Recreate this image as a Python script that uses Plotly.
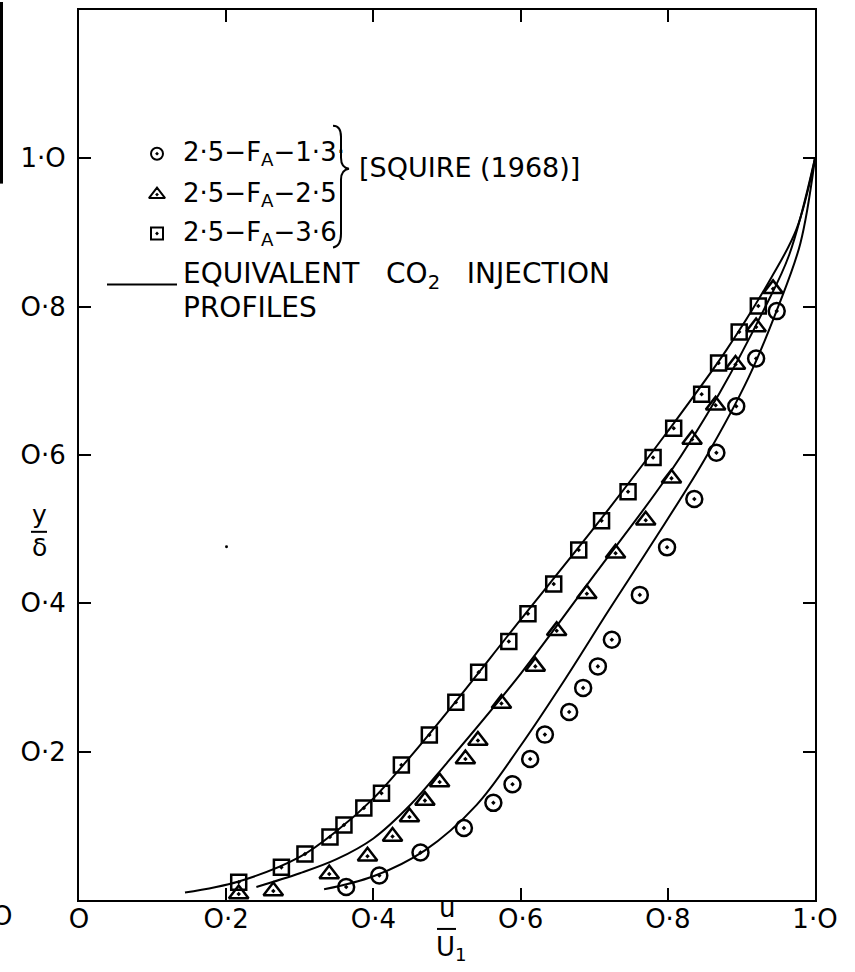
import plotly.graph_objects as go

# ---- measured velocity profiles, u/U1 against y/delta ----
u_13 = [0.363, 0.408, 0.464, 0.523, 0.563, 0.589, 0.613, 0.633, 0.666, 0.685,
        0.705, 0.724, 0.762, 0.799, 0.836, 0.866, 0.893, 0.920, 0.948]
y_13 = [0.0175, 0.033, 0.064, 0.097, 0.131, 0.156, 0.190, 0.223, 0.2535, 0.286,
        0.315, 0.351, 0.4114, 0.4755, 0.5406, 0.603, 0.6657, 0.730, 0.794]

u_25 = [0.217, 0.264, 0.340, 0.392, 0.426, 0.449, 0.470, 0.490, 0.525, 0.542, 0.574,
        0.620, 0.649, 0.690, 0.729, 0.770, 0.805, 0.833, 0.865, 0.892, 0.920, 0.943]
y_25 = [0.008, 0.012, 0.035, 0.059, 0.0857, 0.112, 0.134, 0.159, 0.190, 0.215, 0.265,
        0.315, 0.363, 0.413, 0.4675, 0.512, 0.5685, 0.621, 0.667, 0.722, 0.7725, 0.824]

u_36 = [0.217, 0.275, 0.307, 0.341, 0.360, 0.387, 0.411, 0.438, 0.476, 0.512, 0.543,
        0.584, 0.610, 0.645, 0.679, 0.710, 0.746, 0.780, 0.808, 0.846, 0.869, 0.897, 0.923]
y_36 = [0.024, 0.044, 0.062, 0.085, 0.101, 0.124, 0.144, 0.182, 0.2225, 0.2665, 0.307,
        0.3486, 0.386, 0.426, 0.472, 0.5114, 0.5505, 0.5965, 0.636, 0.682, 0.724, 0.766, 0.801]

# ---- equivalent CO2 injection profiles ----
cu_36 = [0.144, 0.217, 0.300, 0.350, 0.400, 0.450, 0.500, 0.600, 0.700, 0.800,
         0.880, 0.940, 0.975, 1.0]
cy_36 = [0.010, 0.025, 0.058, 0.093, 0.137, 0.193, 0.253, 0.378, 0.502, 0.632,
         0.742, 0.838, 0.905, 1.0]

cu_25 = [0.241, 0.300, 0.350, 0.400, 0.450, 0.500, 0.600, 0.700, 0.800, 0.870,
         0.930, 0.965, 1.0]
cy_25 = [0.0175, 0.036, 0.055, 0.083, 0.128, 0.185, 0.305, 0.438, 0.572, 0.683,
         0.795, 0.870, 1.0]

cu_13 = [0.333, 0.400, 0.470, 0.540, 0.600, 0.660, 0.720, 0.780, 0.850, 0.910,
         0.950, 0.980, 1.0]
cy_13 = [0.0144, 0.032, 0.067, 0.128, 0.208, 0.297, 0.391, 0.483, 0.594, 0.705,
         0.800, 0.885, 1.0]

x_tickvals = [0, 0.2, 0.4, 0.6, 0.8, 1.0]
x_ticktext = ["O", "O·2", "O·4", "O·6", "O·8", "1·O"]
y_tickvals = [0.2, 0.4, 0.6, 0.8, 1.0]
y_ticktext = ["O·2", "O·4", "O·6", "O·8", "1·O"]

series_labels = ["2·5−F<sub>A</sub>−1·3·", "2·5−F<sub>A</sub>−2·5", "2·5−F<sub>A</sub>−3·6"]
source_label = "[SQUIRE (1968)]"
line_label_1 = "EQUIVALENT   CO<sub>2</sub>   INJECTION"
line_label_2 = "PROFILES"

# ---- page geometry (pixels) ----
W, H = 855, 972
L, R, T, B = 79, 815, 8, 900
FONT = "DejaVu Sans"


def fx(p):
    return (p - L) / (R - L)


def fy(p):
    return (B - p) / (B - T)


fig = go.Figure()

line_style = dict(color="black", width=2, shape="spline", smoothing=1.0)
for cu, cy in [(cu_36, cy_36), (cu_25, cy_25), (cu_13, cy_13)]:
    fig.add_trace(go.Scatter(x=cu, y=cy, mode="lines", line=line_style,
                             hoverinfo="skip", showlegend=False))

symbols = ["circle-open-dot", "triangle-up-open-dot", "square-open-dot"]
sizes = [16, 17, 15]
for (u, y), sym, sz in zip([(u_13, y_13), (u_25, y_25), (u_36, y_36)], symbols, sizes):
    fig.add_trace(go.Scatter(x=u, y=y, mode="markers",
                             marker=dict(symbol=sym, size=sz, color="black",
                                         line=dict(color="black", width=2.5)),
                             showlegend=False, cliponaxis=False))

# ---- key (drawn on a pixel-scaled overlay) ----
key_rows = [152, 193, 232]
key_x = 157
key_sizes = [12, 14, 12]
for sym, row, sz in zip(symbols, key_rows, key_sizes):
    fig.add_trace(go.Scatter(x=[key_x], y=[row], xaxis="x2", yaxis="y2", mode="markers",
                             marker=dict(symbol=sym, size=sz, color="black",
                                         line=dict(color="black", width=2)),
                             showlegend=False, hoverinfo="skip"))
fig.add_trace(go.Scatter(x=[107, 177], y=[283, 283], xaxis="x2", yaxis="y2", mode="lines",
                         line=dict(color="black", width=2), showlegend=False,
                         hoverinfo="skip"))

txt_font = dict(family=FONT, size=26, color="black")
caps_font = dict(family=FONT, size=28, color="black")
annotations = []
for text, row in zip(series_labels, key_rows):
    annotations.append(dict(x=fx(181), y=fy(row), xref="paper", yref="paper", text=text,
                            xanchor="left", yanchor="middle", showarrow=False, font=txt_font))
annotations.append(dict(x=fx(357), y=fy(166), xref="paper", yref="paper", text=source_label,
                        xanchor="left", yanchor="middle", showarrow=False,
                        font=dict(family=FONT, size=27, color="black")))
annotations.append(dict(x=fx(181), y=fy(274), xref="paper", yref="paper", text=line_label_1,
                        xanchor="left", yanchor="middle", showarrow=False, font=caps_font))
annotations.append(dict(x=fx(181), y=fy(306), xref="paper", yref="paper", text=line_label_2,
                        xanchor="left", yanchor="middle", showarrow=False, font=caps_font))

# axis titles written as stacked fractions
annotations.append(dict(x=fx(447), y=fy(908), xref="paper", yref="paper", text="u",
                        xanchor="center", yanchor="middle", showarrow=False, font=txt_font))
annotations.append(dict(x=fx(452), y=fy(949), xref="paper", yref="paper", text="U<sub>1</sub>",
                        xanchor="center", yanchor="middle", showarrow=False, font=txt_font))
annotations.append(dict(x=fx(39), y=fy(514), xref="paper", yref="paper", text="y",
                        xanchor="center", yanchor="middle", showarrow=False,
                        font=dict(family=FONT, size=25, color="black")))
annotations.append(dict(x=fx(39), y=fy(547), xref="paper", yref="paper", text="δ",
                        xanchor="center", yanchor="middle", showarrow=False,
                        font=dict(family=FONT, size=25, color="black")))
# neighbouring panel's axis label at the page edge
annotations.append(dict(x=fx(2), y=fy(916), xref="paper", yref="paper", text="O",
                        xanchor="center", yanchor="middle", showarrow=False, font=txt_font))


def brace_path():
    pts = [(333, 124), (341, 124), (341, 135), (341, 156), (341, 166), (349, 167),
           (341, 168), (341, 178), (341, 232), (341, 245), (333, 246)]
    p = [(fx(a), fy(b)) for a, b in pts]
    return ("M {0},{1} Q {2},{3} {4},{5} L {6},{7} Q {8},{9} {10},{11} "
            "Q {12},{13} {14},{15} L {16},{17} Q {18},{19} {20},{21}").format(
        *[c for xy in p for c in xy])


shapes = [
    dict(type="path", path=brace_path(), xref="paper", yref="paper",
         line=dict(color="black", width=2)),
    dict(type="line", xref="paper", yref="paper", x0=fx(437), x1=fx(456),
         y0=fy(929), y1=fy(929), line=dict(color="black", width=2)),
    dict(type="line", xref="paper", yref="paper", x0=fx(31), x1=fx(47),
         y0=fy(531), y1=fy(531), line=dict(color="black", width=2)),
    dict(type="rect", xref="paper", yref="paper", x0=fx(0), x1=fx(3),
         y0=fy(182), y1=fy(0), line=dict(width=0), fillcolor="black"),
    dict(type="circle", xref="paper", yref="paper", x0=fx(225), x1=fx(228),
         y0=fy(547.5), y1=fy(544.5), line=dict(width=0), fillcolor="black"),
]

axis_common = dict(showline=True, linewidth=2, linecolor="black", mirror="ticks",
                   ticks="inside", ticklen=12, tickwidth=1.5, tickcolor="black",
                   showgrid=False, zeroline=False,
                   tickfont=dict(family=FONT, size=26, color="black"))

fig.update_layout(
    width=W, height=H,
    margin=dict(l=L, r=W - R, t=T, b=H - B, pad=0),
    paper_bgcolor="white", plot_bgcolor="white",
    showlegend=False,
    xaxis=dict(range=[0, 1.0], tickmode="array", tickvals=x_tickvals, ticktext=x_ticktext,
               ticklabelstandoff=-5, **axis_common),
    yaxis=dict(range=[0, 1.2], tickmode="array", tickvals=y_tickvals, ticktext=y_ticktext,
               ticklabelstandoff=6, **axis_common),
    xaxis2=dict(overlaying="x", range=[L, R], visible=False, fixedrange=True),
    yaxis2=dict(overlaying="y", range=[B, T], visible=False, fixedrange=True),
    annotations=annotations,
    shapes=shapes,
)

fig.write_html("out.html")
